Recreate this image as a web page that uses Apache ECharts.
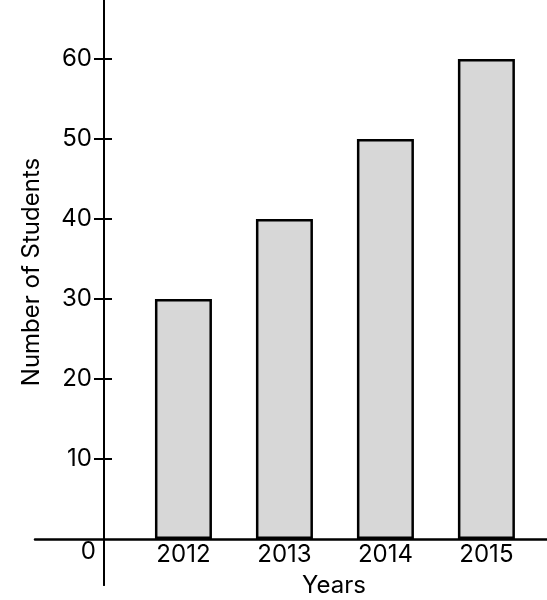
<!DOCTYPE html>
<html>
<head>
<meta charset="utf-8">
<script src="https://cdn.jsdelivr.net/npm/echarts@6/dist/echarts.min.js"></script>
<style>
  html, body { margin: 0; padding: 0; background: #fff; }
  #chart { width: 547px; height: 600px; }
</style>
</head>
<body>
<div id="chart"></div>
<script>
// data
const years = [2012, 2013, 2014, 2015];
const students = [30, 40, 50, 60];
const yTicks = [10, 20, 30, 40, 50, 60];
const yLabels = [10, 20, 30, 40, 50, 60];
const originLabel = [0];

const chart = echarts.init(document.getElementById('chart'));

const font = 'Inter, "Noto Sans", sans-serif';

chart.setOption({
  animation: false,
  textStyle: { fontFamily: font, color: '#000' },
  grid: { left: 35, right: 0, top: 0, bottom: 15, containLabel: false, outerBoundsMode: 'none' },
  xAxis: {
    type: 'value',
    min: 2010.53,
    max: 2015.6,
    splitLine: { show: false },
    axisLine: { onZero: true, lineStyle: { color: '#000', width: 2.5 } },
    axisTick: { show: false },
    axisLabel: {
      customValues: years,
      formatter: (v) => String(v),
      fontSize: 24,
      color: '#000',
      margin: -42,
      fontFamily: font
    },
    name: 'Years',
    nameLocation: 'middle',
    nameGap: -11,
    nameMoveOverlap: false,
    nameTextStyle: { fontSize: 24, color: '#000', padding: [0, 0, 0, 86], fontFamily: font }
  },
  yAxis: [
    {
      type: 'value',
      position: 'left',
      min: -5.75,
      max: 67.375,
      offset: -69,
      splitLine: { show: false },
      axisLine: { show: true, onZero: false, lineStyle: { color: '#000', width: 2 } },
      axisTick: { show: true, customValues: yTicks, length: 10, lineStyle: { color: '#000', width: 2 } },
      axisLabel: {
        customValues: yLabels,
        formatter: (v) => String(v),
        fontSize: 24,
        color: '#000',
        margin: 12,
        fontFamily: font
      },
      name: 'Number of Students',
      nameLocation: 'middle',
      nameGap: 60,
      nameTextStyle: { fontSize: 24, color: '#000', padding: [0, 0, 0, 41], fontFamily: font }
    },
    {
      type: 'value',
      position: 'left',
      min: -5.75,
      max: 67.375,
      offset: -69,
      splitLine: { show: false },
      axisLine: { show: true, onZero: false, lineStyle: { color: '#000', width: 2 } },
      axisTick: { show: true, inside: true, customValues: yTicks, length: 8, lineStyle: { color: '#000', width: 2 } },
      axisLabel: {
        customValues: originLabel,
        formatter: '{z|{value}}',
        rich: { z: { fontSize: 24, color: '#000', padding: [26, 0, 0, 0], fontFamily: font } },
        margin: 8
      }
    }
  ],
  series: [
    {
      type: 'bar',
      barWidth: 57,
      data: years.map((y, i) => [y, students[i]]),
      itemStyle: { color: '#d7d7d7', borderColor: '#000', borderWidth: 2.5 }
    }
  ]
});
</script>
</body>
</html>
